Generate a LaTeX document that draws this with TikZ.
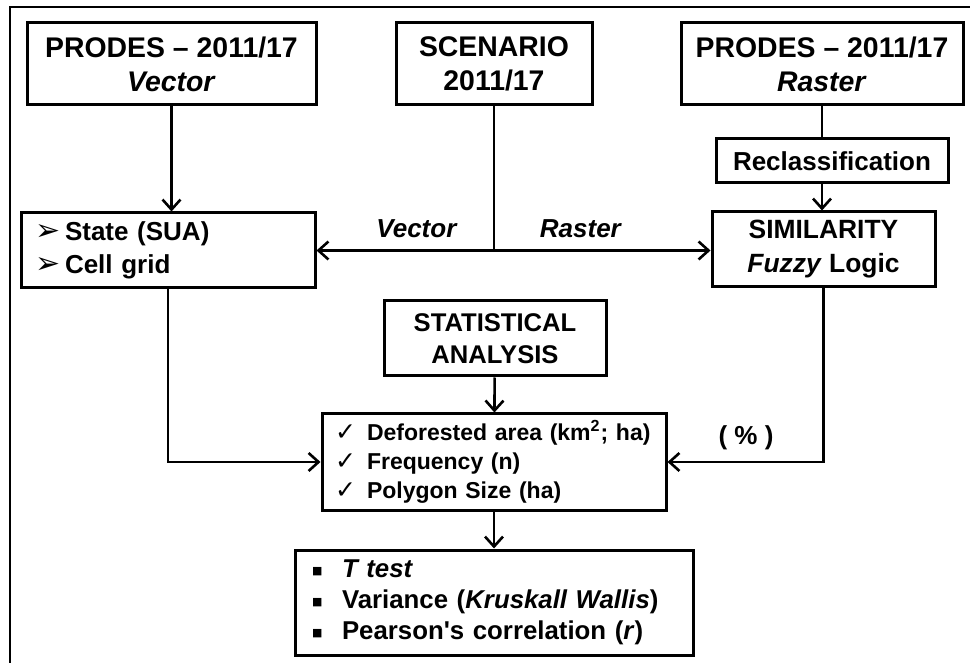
\documentclass[tikz,border=0pt]{standalone}
\usepackage{fontspec}
\setmainfont{Liberation Sans}
\newfontfamily\symfont{DejaVu Sans}
\usetikzlibrary{arrows.meta}
\newcommand\arrowbullet{\makebox[15pt][l]{\symfont\mdseries\fontsize{15}{15}\selectfont ➢}}
\newcommand\checkbullet{\makebox[16pt][l]{\symfont\mdseries\fontsize{12.5}{12.5}\selectfont ✓}}
\newcommand\squarebullet{\makebox[15pt][l]{\raisebox{1.5pt}{\symfont\mdseries\fontsize{5.5}{5.5}\selectfont ■}}}

\begin{document}
\begin{tikzpicture}[x=0.5pt,y=-0.5pt,
  box/.style={draw,line width=1.5pt,align=center,inner sep=0pt,font=\bfseries\fontsize{13}{16.5}\selectfont},
  titlebox/.style={box,minimum height=41pt,font=\bfseries\fontsize{14.2}{17}\selectfont},
  flow/.style={line width=1.3pt,-{Straight Barb[length=5pt,width=9pt,line width=1.3pt]}},
  link/.style={line width=1.3pt},
  lbl/.style={font=\bfseries\fontsize{13}{15}\selectfont}]
\useasboundingbox (0,0) rectangle (970,663);
% Frame
\draw[line width=1.2pt] (10,663) -- (10,7) -- (970,7);
% Input Layers
\node[titlebox,minimum width=144.5pt] (pv) at (171.5,64) {PRODES -- 2011/17\\\textit{Vector}};
\node[titlebox,minimum width=98pt] (scen) at (494,64) {SCENARIO\\2011/17};
\node[titlebox,minimum width=141pt] (pr) at (822,64) {PRODES -- 2011/17\\\textit{Raster}};
\node[box,minimum width=116pt,minimum height=22pt] (recl) at (832,161) {Reclassification};
% Processing
\node[box,align=left,text width=133pt,inner xsep=7pt,minimum height=37.5pt] (state) at (168,250.5)
  {\arrowbullet State (SUA)\\\arrowbullet Cell grid};
\node[box,minimum width=111.5pt,minimum height=37.5pt,font=\bfseries\fontsize{13.2}{17}\selectfont] (sim) at (823.5,249.5)
  {SIMILARITY\\\textit{Fuzzy} Logic};
\node[box,minimum width=111pt,minimum height=37.5pt,font=\bfseries\fontsize{12.8}{16}\selectfont] (stat) at (495,338.5)
  {STATISTICAL\\ANALYSIS};
% Metrics and Tests
\node[box,align=left,text width=159pt,inner xsep=6.5pt,minimum height=48pt,font=\bfseries\fontsize{11.5}{14.5}\selectfont] (defo) at (494,462)
  {\checkbullet Deforested area (km\textsuperscript{2}; ha)\\\checkbullet Frequency (n)\\\checkbullet Polygon Size (ha)};
\node[box,align=left,text width=182pt,inner xsep=8.5pt,minimum height=52.5pt,font=\bfseries\fontsize{12.9}{15.5}\selectfont] (tests) at (494,602.5)
  {\squarebullet \textit{T test}\\\squarebullet Variance (\textit{Kruskall Wallis})\\\squarebullet Pearson\textquotesingle s correlation (\textit{r})};
% Connectors
\coordinate (split) at (scen.south |- state.east);
\draw[flow] (pv.south) -- (pv.south |- state.north);
\draw[link] (scen.south) -- (split);
\draw[flow] (split) -- (state.east);
\draw[flow] (split) -- (split -| sim.west);
\draw[link] (pr.south) -- (pr.south |- recl.north);
\draw[flow] (recl.south -| pr.south) -- (sim.north -| pr.south);
\draw[flow] (stat) -- (defo);
\draw[flow] (state.south) |- (defo.west);
\draw[flow] (sim.south) |- (defo.east);
\draw[flow] (defo) -- (tests);
% Connector Labels
\node[lbl] (veclbl) at (417,229) {\textit{Vector}};
\node[lbl] (raslbl) at (581,229) {\textit{Raster}};
\node[lbl] (pctlbl) at (746,438) {( \% )};
\end{tikzpicture}
\end{document}
